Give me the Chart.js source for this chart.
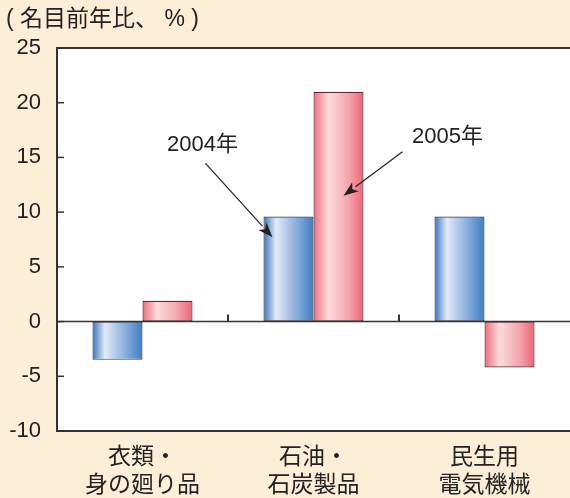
<!DOCTYPE html>
<html>
<head>
<meta charset="utf-8">
<script src="https://cdn.jsdelivr.net/npm/chart.js@4"></script>
<style>
  html, body { margin: 0; padding: 0; background: #fdeed8; }
  #wrap { width: 570px; height: 498px; position: relative; }
</style>
</head>
<body>
<div id="wrap"><canvas id="chart" width="570" height="498"></canvas></div>
<script>
// =========================
// データ
// =========================
const categories = [["衣類・", "身の廻り品"], ["石油・", "石炭製品"], ["民生用", "電気機械"]];
const seriesNames = ["2004年", "2005年"];
const values2004 = [-3.5, 9.6, 9.6];
const values2005 = [1.9, 21.0, -4.2];
const yTicks = [-10, -5, 0, 5, 10, 15, 20, 25];
const yTitle = "( 名目前年比、 % )";

const FONT = "'Liberation Sans', 'Noto Sans CJK JP', sans-serif";
const CAT_PCT = 0.585;

// 横方向グラデーション（棒ごと）
function barGradient(ctx, dsIndex) {
  const chart = ctx.chart;
  const xs = chart.scales.x;
  const fallback = dsIndex === 0 ? "#4a86c8" : "#f07080";
  if (!xs || ctx.dataIndex === undefined) return fallback;
  const cw = xs.width / categories.length;
  const bw = (cw * CAT_PCT) / 2;
  const left = xs.getPixelForValue(ctx.dataIndex) - bw + dsIndex * bw;
  if (!isFinite(left) || !isFinite(bw) || bw <= 0) return fallback;
  const g = chart.ctx.createLinearGradient(left, 0, left + bw, 0);
  if (dsIndex === 0) {
    g.addColorStop(0, "#3674c0");
    g.addColorStop(0.25, "#e2eaf7");
    g.addColorStop(0.65, "#8cafdc");
    g.addColorStop(1, "#3a7ec6");
  } else {
    g.addColorStop(0, "#ee6c7c");
    g.addColorStop(0.3, "#fddcdb");
    g.addColorStop(0.7, "#f4a5ad");
    g.addColorStop(1, "#ef6476");
  }
  return g;
}

// =========================
// 枠・目盛・矢印
// =========================
const framePlugin = {
  id: "frame",
  beforeDatasetsDraw(chart) {
    const { ctx, chartArea: a } = chart;
    ctx.save();
    ctx.fillStyle = "#ffffff";
    ctx.fillRect(a.left, a.top, a.right - a.left, a.bottom - a.top);
    ctx.restore();
  },
  afterDatasetsDraw(chart) {
    const { ctx, chartArea: a, scales } = chart;
    const y0 = scales.y.getPixelForValue(0);
    ctx.save();
    ctx.strokeStyle = "#333333";

    // ゼロ線
    ctx.lineWidth = 1.5;
    ctx.beginPath();
    ctx.moveTo(a.left, y0);
    ctx.lineTo(a.right, y0);
    ctx.stroke();

    // カテゴリ区切り目盛
    ctx.lineWidth = 2;
    for (let i = 0; i < categories.length - 1; i++) {
      const x = (scales.x.getPixelForValue(i) + scales.x.getPixelForValue(i + 1)) / 2;
      ctx.beginPath();
      ctx.moveTo(x, y0);
      ctx.lineTo(x, y0 - 7);
      ctx.stroke();
    }

    // 枠（上・左・下）
    ctx.lineWidth = 2;
    ctx.beginPath();
    ctx.moveTo(a.right + 5, a.top);
    ctx.lineTo(a.left, a.top);
    ctx.lineTo(a.left, a.bottom);
    ctx.lineTo(a.right + 5, a.bottom);
    ctx.stroke();

    // 内向き目盛
    ctx.lineWidth = 1.5;
    yTicks.forEach((v) => {
      const y = scales.y.getPixelForValue(v);
      ctx.beginPath();
      ctx.moveTo(a.left, y);
      ctx.lineTo(a.left + 7, y);
      ctx.stroke();
    });

    // 凡例の矢印
    const bar04 = chart.getDatasetMeta(0).data[1];
    const bar05 = chart.getDatasetMeta(1).data[1];
    const arrows = [
      { text: seriesNames[0], tip: [bar04.x - bar04.width / 2 + 9, scales.y.getPixelForValue(7.7)], from: [-67, -74], label: [-70, -92] },
      { text: seriesNames[1], tip: [bar05.x - bar05.width / 2 + 30, scales.y.getPixelForValue(11.5)], from: [59, -44], label: [104, -59] },
    ];
    arrows.forEach((ar) => {
      const [tx, ty] = ar.tip;
      const sx = tx + ar.from[0];
      const sy = ty + ar.from[1];
      const ang = Math.atan2(ty - sy, tx - sx);
      const len = 15, half = 5.5;
      const bx = tx - len * Math.cos(ang);
      const by = ty - len * Math.sin(ang);
      ctx.strokeStyle = "#222222";
      ctx.fillStyle = "#222222";
      ctx.lineWidth = 1.2;
      ctx.beginPath();
      ctx.moveTo(sx, sy);
      ctx.lineTo(bx, by);
      ctx.stroke();
      ctx.beginPath();
      ctx.moveTo(tx, ty);
      ctx.lineTo(bx + half * Math.sin(ang), by - half * Math.cos(ang));
      ctx.lineTo(tx - (len - 4) * Math.cos(ang), ty - (len - 4) * Math.sin(ang));
      ctx.lineTo(bx - half * Math.sin(ang), by + half * Math.cos(ang));
      ctx.closePath();
      ctx.fill();

      ctx.font = "22px " + FONT;
      ctx.textAlign = "center";
      ctx.textBaseline = "middle";
      ctx.fillText(ar.text, tx + ar.label[0], ty + ar.label[1]);
    });

    // 縦軸タイトル
    ctx.font = "23px " + FONT;
    ctx.textAlign = "left";
    ctx.textBaseline = "middle";
    ctx.fillStyle = "#222222";
    ctx.fillText(yTitle, 6, 20);
    ctx.restore();
  },
};

// =========================
// グラフ
// =========================
new Chart(document.getElementById("chart"), {
  type: "bar",
  data: {
    labels: categories,
    datasets: [
      {
        label: seriesNames[0],
        data: values2004,
        backgroundColor: (c) => barGradient(c, 0),
        borderColor: "#3d3d48",
        borderWidth: 1.2,
        borderSkipped: false,
      },
      {
        label: seriesNames[1],
        data: values2005,
        backgroundColor: (c) => barGradient(c, 1),
        borderColor: "#5a2a36",
        borderWidth: 1.2,
        borderSkipped: false,
      },
    ],
  },
  options: {
    responsive: false,
    animation: false,
    events: [],
    layout: { padding: { top: 48, right: -4, left: 0, bottom: 0 } },
    datasets: { bar: { categoryPercentage: CAT_PCT, barPercentage: 1.0 } },
    plugins: { legend: { display: false }, tooltip: { enabled: false } },
    scales: {
      x: {
        offset: true,
        grid: { display: false, drawTicks: false },
        border: { display: false },
        ticks: { color: "#222222", font: { size: 23, family: FONT, lineHeight: 1.2 }, padding: 13, maxRotation: 0, autoSkip: false },
        afterFit(s) { s.height = 67; },
      },
      y: {
        min: -10,
        max: 25,
        afterBuildTicks(s) { s.ticks = yTicks.map((v) => ({ value: v })); },
        grid: { display: false, drawTicks: false },
        border: { display: false },
        ticks: { color: "#222222", font: { size: 22, family: FONT }, padding: 16 },
        afterFit(s) { s.width = 57; },
      },
    },
  },
  plugins: [framePlugin],
});
</script>
</body>
</html>
